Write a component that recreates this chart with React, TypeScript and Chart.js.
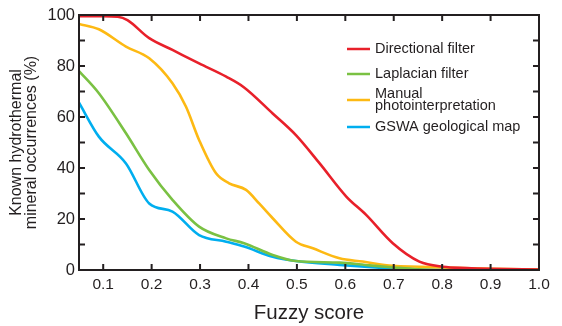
import React, { useEffect, useRef } from "react";
import { Chart, registerables } from "chart.js";

Chart.register(...registerables);

const SERIES_NAMES = ["Directional filter", "Laplacian filter", "Manual\nphotointerpretation", "GSWA geological map"];
const SERIES_COLORS = ["#e8202a", "#7ac143", "#fdb913", "#00aeef"];

const DIR_X = [0.05, 0.1, 0.13, 0.15, 0.195, 0.243, 0.298, 0.354, 0.391, 0.45, 0.498, 0.547, 0.602, 0.643, 0.698, 0.753, 0.802, 0.85, 0.9, 1.0];
const DIR_Y = [99.5, 99.5, 99.3, 98, 90.9, 86.3, 81, 75.8, 71.6, 61.4, 52.9, 41.8, 28.8, 21.6, 10.5, 3.3, 1.3, 0.8, 0.5, 0.2];

const LAP_X = [0.05, 0.091, 0.147, 0.195, 0.243, 0.298, 0.354, 0.391, 0.45, 0.498, 0.588, 0.65, 0.7, 0.75, 0.8, 1.0];
const LAP_Y = [78, 69.3, 53.6, 39.2, 27.5, 17, 12.4, 10.5, 5.9, 3.5, 2.9, 1.8, 1, 0.3, 0, 0];

const MAN_X = [0.05, 0.091, 0.147, 0.195, 0.243, 0.271, 0.298, 0.333, 0.36, 0.395, 0.422, 0.45, 0.498, 0.533, 0.588, 0.636, 0.698, 0.753, 0.8, 0.9, 1.0];
const MAN_Y = [96.5, 94.4, 87.6, 83, 73.2, 64, 51, 37.9, 34, 31.4, 26.1, 20.3, 11.1, 8.5, 4.6, 3.3, 1.6, 1.3, 1, 0.5, 0.2];

const GEO_X = [0.05, 0.091, 0.147, 0.195, 0.243, 0.298, 0.354, 0.391, 0.45, 0.498, 0.588, 0.7, 0.75, 1.0];
const GEO_Y = [65.6, 52.3, 41.8, 26.1, 22.9, 13.7, 11.1, 9.2, 5.2, 3.5, 2, 0.5, 0, 0];

const X_TICKS = [0.1, 0.2, 0.3, 0.4, 0.5, 0.6, 0.7, 0.8, 0.9, 1.0];
const Y_TICKS = [0, 10, 20, 30, 40, 50, 60, 70, 80, 90, 100];

const FONT = "'Liberation Sans', Arial, sans-serif";
const TEXT = "#231f20";

const pts = (xs: number[], ys: number[]) => xs.map((x, i) => ({ x, y: ys[i] }));

const frameAndTicks = {
  id: "frameAndTicks",
  afterDatasetsDraw(chart: any) {
    const { ctx, chartArea: a, scales } = chart;
    const L = 6;
    ctx.save();
    ctx.strokeStyle = "#231f20";
    ctx.lineWidth = 2;
    ctx.strokeRect(a.left, a.top, a.right - a.left, a.bottom - a.top);
    ctx.beginPath();
    for (const t of scales.x.ticks) {
      if (t.value <= 0.05 || t.value >= 1.0) continue;
      const px = scales.x.getPixelForValue(t.value);
      ctx.moveTo(px, a.bottom);
      ctx.lineTo(px, a.bottom - L);
      ctx.moveTo(px, a.top);
      ctx.lineTo(px, a.top + L);
    }
    for (const t of scales.y.ticks) {
      if (t.value <= 0 || t.value >= 100) continue;
      const py = scales.y.getPixelForValue(t.value);
      ctx.moveTo(a.left, py);
      ctx.lineTo(a.left + L, py);
      ctx.moveTo(a.right, py);
      ctx.lineTo(a.right - L, py);
    }
    ctx.stroke();
    ctx.restore();
  },
};

const customLegend = {
  id: "customLegend",
  afterDraw(chart: any) {
    const { ctx } = chart;
    const rows = [49, 74, 100, 127];
    ctx.save();
    ctx.font = `14.5px ${FONT}`;
    ctx.textBaseline = "middle";
    ctx.fillStyle = TEXT;
    chart.data.datasets.forEach((ds: any, i: number) => {
      const y = rows[i];
      ctx.strokeStyle = ds.borderColor;
      ctx.lineWidth = 2.5;
      ctx.beginPath();
      ctx.moveTo(347, y);
      ctx.lineTo(370, y);
      ctx.stroke();
      const lines = String(ds.label).split("\n");
      const lh = 12;
      lines.forEach((ln, j) => {
        ctx.fillText(ln, 375, y + (j - (lines.length - 1) / 2) * lh);
      });
    });
    ctx.restore();
  },
};

export default function App() {
  const ref = useRef<HTMLCanvasElement>(null);
  useEffect(() => {
    document.body.style.margin = "0";
    const datasets = [
      pts(DIR_X, DIR_Y),
      pts(LAP_X, LAP_Y),
      pts(MAN_X, MAN_Y),
      pts(GEO_X, GEO_Y),
    ].map((data, i) => ({
      label: SERIES_NAMES[i],
      data,
      borderColor: SERIES_COLORS[i],
      backgroundColor: SERIES_COLORS[i],
      borderWidth: 2.6,
      pointRadius: 0,
      cubicInterpolationMode: "monotone" as const,
      fill: false,
    }));
    const chart = new Chart(ref.current!, {
      type: "line",
      data: { datasets },
      options: {
        animation: false,
        responsive: false,
        layout: { padding: { top: 15, right: 23, left: 0, bottom: 0 } },
        plugins: { legend: { display: false }, tooltip: { enabled: false } },
        scales: {
          x: {
            type: "linear",
            min: 0.05,
            max: 1.0,
            afterBuildTicks: (s: any) => {
              s.ticks = X_TICKS.map((v) => ({ value: v }));
            },
            afterFit: (s: any) => {
              s.height = 56;
            },
            grid: { display: false, drawTicks: false },
            border: { display: false },
            ticks: {
              padding: 5,
              maxRotation: 0,
              autoSkip: false,
              color: TEXT,
              font: { family: FONT, size: 15.5 },
              callback: (v: any) => Number(v).toFixed(1),
            },
            title: {
              display: true,
              text: "Fuzzy score",
              color: TEXT,
              font: { family: FONT, size: 20.5 },
              padding: { top: 0, bottom: 0 },
            },
          },
          y: {
            min: 0,
            max: 100,
            afterBuildTicks: (s: any) => {
              s.ticks = Y_TICKS.map((v) => ({ value: v }));
            },
            afterFit: (s: any) => {
              s.width = 79;
            },
            grid: { display: false, drawTicks: false },
            border: { display: false },
            ticks: {
              padding: 4,
              autoSkip: false,
              color: TEXT,
              font: { family: FONT, size: 16.5 },
              callback: (v: any) => (Number(v) % 20 === 0 ? String(v) : ""),
            },
            title: {
              display: true,
              text: ["Known hydrothermal", "mineral occurrences (%)"],
              color: TEXT,
              font: { family: FONT, size: 16, lineHeight: 0.95 },
              padding: { top: 9, bottom: 0 },
            },
          },
        },
      },
      plugins: [frameAndTicks, customLegend],
    });
    return () => chart.destroy();
  }, []);
  return (
    <div style={{ position: "absolute", left: 0, top: 0, width: 562, height: 326 }}>
      <canvas ref={ref} width={562} height={326} style={{ width: 562, height: 326 }} />
    </div>
  );
}
